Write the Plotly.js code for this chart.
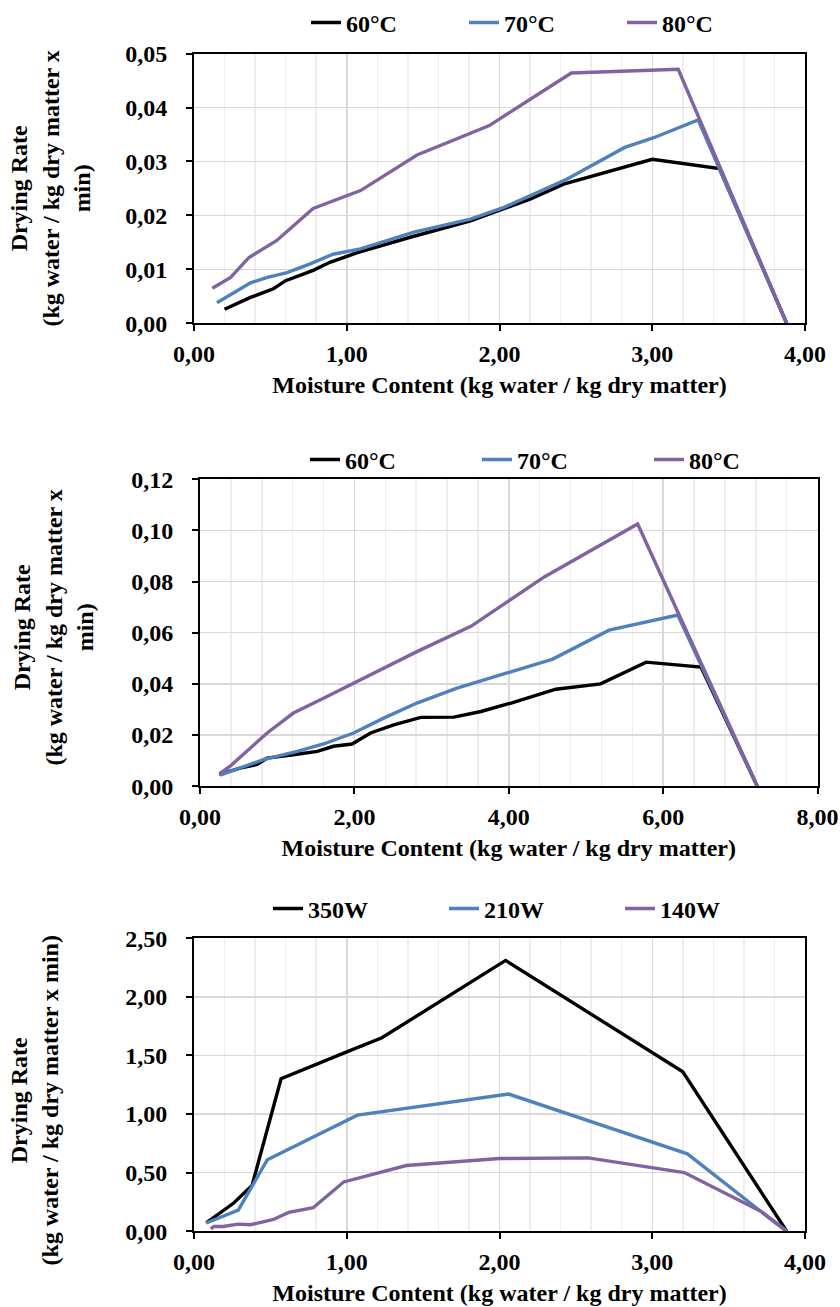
<!DOCTYPE html>
<html>
<head>
<meta charset="utf-8">
<script src="https://cdn.plot.ly/plotly-3.0.1.min.js"></script>
<style>
  html, body { margin: 0; padding: 0; background: #fff; }
  #chart { width: 840px; height: 1307px; }
</style>
</head>
<body>
<div id="chart"></div>
<script>
// ---------- Panel 1 (temperature, top) ----------
const p1Names = ['60°C', '70°C', '80°C'];
const p1_60_x = [0.20, 0.37, 0.52, 0.60, 0.78, 0.89, 1.07, 1.41, 1.81, 2.00, 2.20, 2.42, 2.60, 2.81, 3.00, 3.44, 3.88];
const p1_60_y = [0.0026, 0.0048, 0.0064, 0.0079, 0.0098, 0.0113, 0.0131, 0.0159, 0.0190, 0.0209, 0.0230, 0.0258, 0.0272, 0.0289, 0.0304, 0.0287, 0];
const p1_70_x = [0.15, 0.37, 0.48, 0.61, 0.76, 0.91, 1.09, 1.44, 1.81, 2.03, 2.44, 2.82, 3.01, 3.30, 3.88];
const p1_70_y = [0.0038, 0.0075, 0.0085, 0.0094, 0.0110, 0.0128, 0.0138, 0.0169, 0.0193, 0.0215, 0.0267, 0.0326, 0.0344, 0.0377, 0];
const p1_80_x = [0.12, 0.24, 0.36, 0.54, 0.78, 1.09, 1.46, 1.93, 2.47, 3.17, 3.88];
const p1_80_y = [0.0065, 0.0085, 0.0122, 0.0153, 0.0213, 0.0246, 0.0312, 0.0366, 0.0464, 0.0471, 0];

// ---------- Panel 2 (temperature, middle) ----------
const p2Names = ['60°C', '70°C', '80°C'];
const p2_60_x = [0.25, 0.52, 0.74, 0.87, 1.21, 1.52, 1.73, 1.97, 2.21, 2.51, 2.86, 3.29, 3.64, 4.03, 4.61, 5.19, 5.78, 6.49, 7.22];
const p2_60_y = [0.0046, 0.0071, 0.0085, 0.0110, 0.0123, 0.0136, 0.0156, 0.0165, 0.0208, 0.0240, 0.0269, 0.0270, 0.0292, 0.0325, 0.0379, 0.0400, 0.0485, 0.0466, 0];
const p2_70_x = [0.26, 0.82, 1.26, 1.60, 1.99, 2.38, 2.81, 3.33, 4.57, 5.30, 6.19, 7.22];
const p2_70_y = [0.0043, 0.0104, 0.0136, 0.0165, 0.0208, 0.0266, 0.0325, 0.0383, 0.0497, 0.0610, 0.0669, 0];
const p2_80_x = [0.25, 0.39, 0.87, 1.21, 1.60, 2.00, 2.81, 3.51, 4.46, 5.67, 7.22];
const p2_80_y = [0.0048, 0.0078, 0.0208, 0.0286, 0.0344, 0.0403, 0.0526, 0.0625, 0.0818, 0.1025, 0];

// ---------- Panel 3 (microwave power, bottom) ----------
const p3Names = ['350W', '210W', '140W'];
const p3_350_x = [0.08, 0.26, 0.38, 0.57, 1.00, 1.23, 2.04, 3.20, 3.88];
const p3_350_y = [0.07, 0.24, 0.39, 1.30, 1.53, 1.65, 2.31, 1.36, 0];
const p3_210_x = [0.08, 0.29, 0.48, 1.07, 2.06, 3.23, 3.71, 3.88];
const p3_210_y = [0.07, 0.18, 0.61, 0.99, 1.17, 0.66, 0.17, 0];
const p3_140_x = [0.11, 0.13, 0.19, 0.29, 0.37, 0.52, 0.62, 0.78, 0.98, 1.39, 2.00, 2.58, 3.21, 3.71, 3.88];
const p3_140_y = [0.02, 0.04, 0.04, 0.06, 0.055, 0.10, 0.16, 0.20, 0.42, 0.56, 0.62, 0.625, 0.50, 0.17, 0];

// ---------- Text ----------
const xTitle = 'Moisture Content (kg water / kg dry matter)';
const yTitle12 = 'Drying Rate<br>(kg water / kg dry matter x<br>min)';
const yTitle3 = 'Drying Rate<br>(kg water / kg dry matter x min)';

const colors = ['#000000', '#4F81BD', '#8064A2'];
const FONT = 'Liberation Serif, Times New Roman, serif';
const FS = 24;
const W = 840, H = 1307;

function line(x, y, name, color, xa, ya, leg) {
  return { x: x, y: y, name: name, type: 'scatter', mode: 'lines',
    line: { color: color, width: 3.4 }, xaxis: xa, yaxis: ya, legend: leg,
    hoverinfo: 'skip' };
}

const data = [
  line(p1_60_x, p1_60_y, p1Names[0], colors[0], 'x', 'y', 'legend'),
  line(p1_70_x, p1_70_y, p1Names[1], colors[1], 'x', 'y', 'legend'),
  line(p1_80_x, p1_80_y, p1Names[2], colors[2], 'x', 'y', 'legend'),
  line(p2_60_x, p2_60_y, p2Names[0], colors[0], 'x2', 'y2', 'legend2'),
  line(p2_70_x, p2_70_y, p2Names[1], colors[1], 'x2', 'y2', 'legend2'),
  line(p2_80_x, p2_80_y, p2Names[2], colors[2], 'x2', 'y2', 'legend2'),
  line(p3_350_x, p3_350_y, p3Names[0], colors[0], 'x3', 'y3', 'legend3'),
  line(p3_210_x, p3_210_y, p3Names[1], colors[1], 'x3', 'y3', 'legend3'),
  line(p3_140_x, p3_140_y, p3Names[2], colors[2], 'x3', 'y3', 'legend3'),
];

const boldFont = { family: FONT, size: FS, color: '#000', weight: 700 };
function px2x(p) { return p / W; }
function py2y(p) { return 1 - p / H; }

function xAxis(range, dtick, minorDtick, domPx, anchor) {
  return {
    domain: [px2x(domPx[0]), px2x(domPx[1])], anchor: anchor, range: range,
    dtick: dtick, tick0: 0, tickformat: '.2f',
    showline: true, linecolor: '#000', linewidth: 2, mirror: true,
    ticks: 'outside', ticklen: 6, tickwidth: 2, tickcolor: '#000',
    showgrid: true, gridcolor: '#d9d9d9', gridwidth: 1.5, zeroline: false,
    minor: { dtick: minorDtick, tick0: 0, showgrid: true, gridcolor: '#eeeeee', gridwidth: 1.5, ticks: '' },
    tickfont: boldFont, ticklabelstandoff: 2,
    title: { text: xTitle, font: boldFont, standoff: 10 },
    fixedrange: true
  };
}
function yAxis(range, dtick, domPy, anchor) {
  return {
    domain: [py2y(domPy[1]), py2y(domPy[0])], anchor: anchor, range: range,
    dtick: dtick, tick0: 0, tickformat: '.2f',
    showline: true, linecolor: '#000', linewidth: 2, mirror: true,
    ticks: 'outside', ticklen: 6, tickwidth: 2, tickcolor: '#000',
    showgrid: true, gridcolor: '#d9d9d9', gridwidth: 1.5, zeroline: false,
    tickfont: boldFont, ticklabelstandoff: 14,
    fixedrange: true
  };
}
function legend(xpx, ypx, ew) {
  return { orientation: 'h', x: px2x(xpx), y: py2y(ypx), xanchor: 'left', yanchor: 'middle',
    font: boldFont,
    entrywidth: ew, entrywidthmode: 'pixels', bgcolor: 'rgba(0,0,0,0)', traceorder: 'normal' };
}
function yTitleAnn(text, xpx, ypx) {
  return { text: text, xref: 'paper', yref: 'paper', x: px2x(xpx), y: py2y(ypx),
    xanchor: 'center', yanchor: 'middle', textangle: -90, showarrow: false,
    font: boldFont, align: 'center' };
}

const layout = {
  width: W, height: H,
  margin: { l: 0, r: 0, t: 0, b: 0 },
  paper_bgcolor: '#fff', plot_bgcolor: '#fff',
  separators: ', ',
  font: { family: FONT, color: '#000' },
  xaxis: xAxis([0, 4], 1, 0.2, [194, 805], 'y'),
  yaxis: yAxis([0, 0.05], 0.01, [50.7, 321], 'x'),
  xaxis2: xAxis([0, 8], 2, 0.4, [200, 817.5], 'y2'),
  yaxis2: yAxis([0, 0.12], 0.02, [477.3, 785], 'x2'),
  xaxis3: xAxis([0, 4], 1, 0.2, [194, 805], 'y3'),
  yaxis3: yAxis([0, 2.5], 0.5, [937.3, 1231], 'x3'),
  legend: legend(306, 20, 113),
  legend2: legend(305, 458, 127),
  legend3: legend(268, 908, 131),
  annotations: [
    yTitleAnn(yTitle12, 50, 186),
    yTitleAnn(yTitle12, 53, 626),
    yTitleAnn(yTitle3, 34, 1100)
  ],
  showlegend: true
};

Plotly.newPlot('chart', data, layout, { displayModeBar: false, staticPlot: true });
</script>
</body>
</html>
